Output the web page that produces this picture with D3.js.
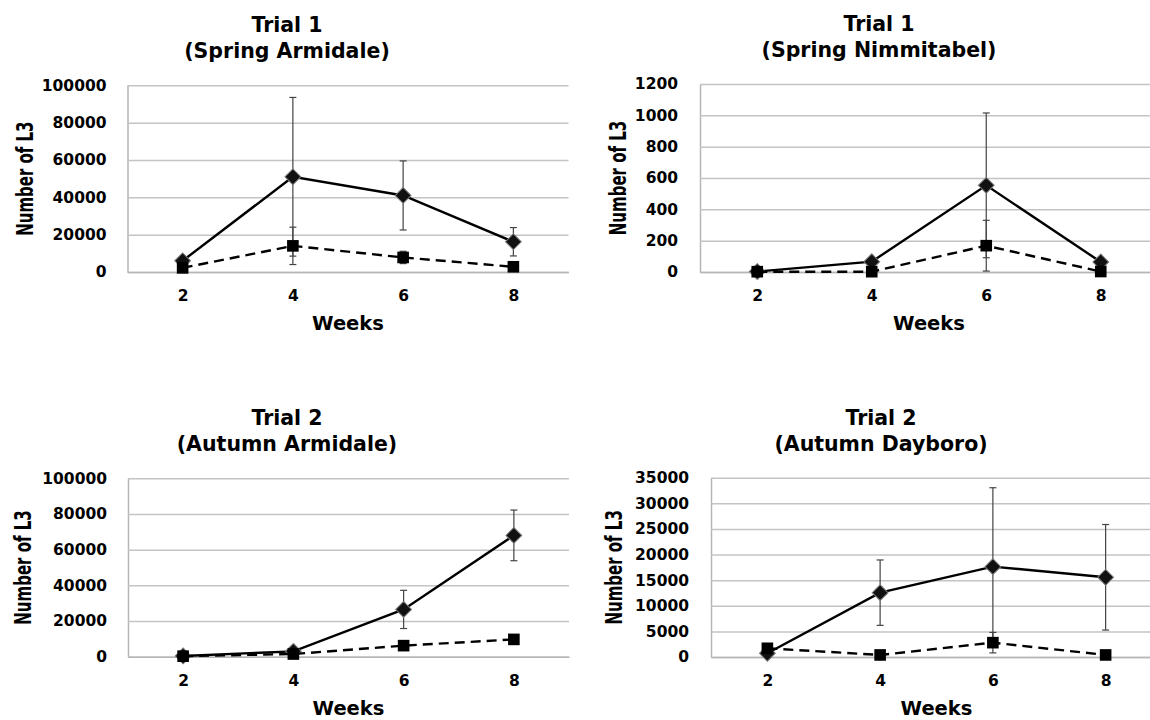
<!DOCTYPE html>
<html>
<head>
<meta charset="utf-8">
<script src="https://cdn.jsdelivr.net/npm/d3@7.9.0/dist/d3.min.js"></script>
<style>
  body { margin: 0; background: #fff; }
  svg { display: block; }
  text { font-family: "DejaVu Sans", sans-serif; font-weight: bold; fill: #000; }
</style>
</head>
<body>
<svg id="chart" width="1150" height="720"></svg>
<script>
// Data (weeks after deposition)
const weeks = [2, 4, 6, 8];

// Trial 1, Spring Armidale
const armidaleSpringDiamond = [6000, 51000, 41000, 16200];
const armidaleSpringDiamondErr = [500, 42500, 18500, 7600];
const armidaleSpringSquare = [2200, 14000, 7800, 2800];
const armidaleSpringSquareErr = [300, 10000, 3300, 500];

// Trial 1, Spring Nimmitabel
const nimmitabelDiamond = [3, 66, 553, 64];
const nimmitabelDiamondErr = [0, 5, 462, 5];
const nimmitabelSquare = [2, 2, 168, 3];
const nimmitabelSquareErr = [0, 0, 162, 0];

// Trial 2, Autumn Armidale
const armidaleAutumnDiamond = [400, 3000, 26500, 68000];
const armidaleAutumnDiamondErr = [200, 500, 10700, 14200];
const armidaleAutumnSquare = [300, 1500, 6200, 9700];
const armidaleAutumnSquareErr = [100, 300, 600, 2500];

// Trial 2, Autumn Dayboro
const dayboroDiamond = [720, 12560, 17640, 15560];
const dayboroDiamondErr = [100, 6380, 15400, 10300];
const dayboroSquare = [1700, 400, 2800, 400];
const dayboroSquareErr = [100, 100, 2000, 100];

// Tick labels
const ticks100k = [0, 20000, 40000, 60000, 80000, 100000];
const ticks1200 = [0, 200, 400, 600, 800, 1000, 1200];
const ticks35k = [0, 5000, 10000, 15000, 20000, 25000, 30000, 35000];

const yTitle = "Number of L3";
const xTitle = "Weeks";

const svg = d3.select("#chart");

// one chart panel, layout values only
function drawPanel(cfg) {
  const x = d3.scalePoint().domain(weeks).range([cfg.left, cfg.right]).padding(0.5);
  const y = d3.scaleLinear().domain([0, cfg.ticks[cfg.ticks.length - 1]]).range([cfg.bottom, cfg.top]);
  const g = svg.append("g");

  // y axis with gridlines
  const yAxis = g.append("g")
    .attr("transform", `translate(${cfg.left},0)`)
    .call(d3.axisLeft(y)
      .tickValues(cfg.ticks)
      .tickFormat(d3.format("d"))
      .tickSize(-(cfg.right - cfg.left))
      .tickSizeOuter(0)
      .tickPadding(cfg.labelGap));
  yAxis.select(".domain").attr("stroke", "#b5b5b5").attr("stroke-width", 1.5);
  yAxis.selectAll(".tick line").attr("stroke", "#c4c4c4").attr("stroke-width", 1.5);
  yAxis.selectAll(".tick text").attr("font-size", 15.5).attr("fill", "#000");
  yAxis.attr("font-family", null).attr("font-size", null);

  // x axis
  const xAxis = g.append("g")
    .attr("transform", `translate(0,${cfg.bottom})`)
    .call(d3.axisBottom(x).tickSize(0).tickSizeOuter(0).tickPadding(18));
  xAxis.select(".domain").attr("stroke", "#b5b5b5").attr("stroke-width", 1.5);
  xAxis.selectAll(".tick text").attr("font-size", 15.5).attr("fill", "#000");
  xAxis.attr("font-family", null).attr("font-size", null);

  // titles
  g.append("text").attr("x", cfg.titleX).attr("y", cfg.top - 53)
    .attr("text-anchor", "middle").attr("font-size", 20.5).text(cfg.title[0]);
  g.append("text").attr("x", cfg.titleX).attr("y", cfg.top - 27)
    .attr("text-anchor", "middle").attr("font-size", 20.5).text(cfg.title[1]);

  g.append("text").attr("x", (cfg.left + cfg.right) / 2).attr("y", cfg.bottom + 58)
    .attr("text-anchor", "middle").attr("font-size", 19.5).text(xTitle);

  g.append("text")
    .attr("transform", `translate(${cfg.yTitleX},${(cfg.top + cfg.bottom) / 2}) rotate(-90) scale(1,1.5)`)
    .attr("text-anchor", "middle").attr("font-size", 15).text(yTitle);

  const line = d3.line().x((d, i) => x(weeks[i])).y(d => y(d));

  function series(values, errs, dashed, marker) {
    const s = g.append("g");
    s.append("path")
      .attr("d", line(values))
      .attr("fill", "none")
      .attr("stroke", "#000")
      .attr("stroke-width", 2.4)
      .attr("stroke-dasharray", dashed ? "10,6" : null);

    // error bars
    values.forEach((v, i) => {
      if (errs[i] <= 0) return;
      const cx = x(weeks[i]);
      const y1 = y(Math.max(0, v - errs[i]));
      const y2 = y(v + errs[i]);
      s.append("line").attr("x1", cx).attr("x2", cx).attr("y1", y1).attr("y2", y2)
        .attr("stroke", "#444").attr("stroke-width", 1.2);
      [y1, y2].forEach(yy => {
        s.append("line").attr("x1", cx - 3.5).attr("x2", cx + 3.5).attr("y1", yy).attr("y2", yy)
          .attr("stroke", "#444").attr("stroke-width", 1.2);
      });
    });

    s.selectAll("path.marker")
      .data(values)
      .enter()
      .append("path")
      .attr("class", "marker")
      .attr("d", d3.symbol(d3.symbolSquare, marker === "diamond" ? 125 : 135)())
      .attr("transform", (d, i) => `translate(${x(weeks[i])},${y(d)})` + (marker === "diamond" ? " rotate(45)" : ""))
      .attr("fill", marker === "diamond" ? "#111" : "#000")
      .attr("stroke", marker === "diamond" ? "#7a7a7a" : "none")
      .attr("stroke-width", 1);
  }

  series(cfg.diamond, cfg.diamondErr, false, "diamond");
  series(cfg.square, cfg.squareErr, true, "square");
}

drawPanel({
  title: ["Trial 1", "(Spring Armidale)"],
  left: 127.5, right: 568.5, top: 85.3, bottom: 272,
  titleX: 287, yTitleX: 33, labelGap: 21,
  ticks: ticks100k,
  diamond: armidaleSpringDiamond, diamondErr: armidaleSpringDiamondErr,
  square: armidaleSpringSquare, squareErr: armidaleSpringSquareErr
});

drawPanel({
  title: ["Trial 1", "(Spring Nimmitabel)"],
  left: 700, right: 1158, top: 84, bottom: 272,
  titleX: 879, yTitleX: 626, labelGap: 22,
  ticks: ticks1200,
  diamond: nimmitabelDiamond, diamondErr: nimmitabelDiamondErr,
  square: nimmitabelSquare, squareErr: nimmitabelSquareErr
});

drawPanel({
  title: ["Trial 2", "(Autumn Armidale)"],
  left: 128, right: 569, top: 478.3, bottom: 656.7,
  titleX: 287, yTitleX: 31, labelGap: 21,
  ticks: ticks100k,
  diamond: armidaleAutumnDiamond, diamondErr: armidaleAutumnDiamondErr,
  square: armidaleAutumnSquare, squareErr: armidaleAutumnSquareErr
});

drawPanel({
  title: ["Trial 2", "(Autumn Dayboro)"],
  left: 711, right: 1162, top: 477.7, bottom: 657,
  titleX: 881, yTitleX: 622, labelGap: 22,
  ticks: ticks35k,
  diamond: dayboroDiamond, diamondErr: dayboroDiamondErr,
  square: dayboroSquare, squareErr: dayboroSquareErr
});
</script>
</body>
</html>
